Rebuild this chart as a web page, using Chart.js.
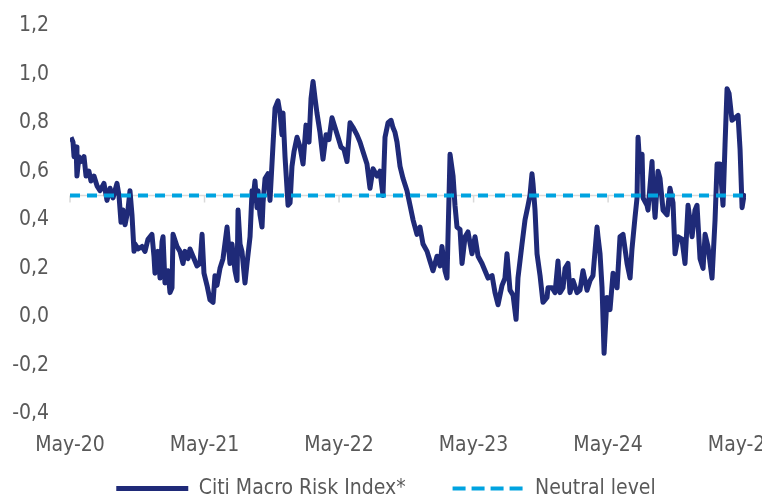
<!DOCTYPE html>
<html lang="en">
<head>
<meta charset="UTF-8">
<title>Citi Macro Risk Index</title>
<script src="https://cdn.jsdelivr.net/npm/chart.js"></script>
<style>
  html, body { margin: 0; padding: 0; background: #fff; overflow: hidden; }
  body { width: 762px; height: 497px; }
  #chart { display: block; }
</style>
</head>
<body>
<canvas id="chart" width="790" height="497"></canvas>
<script>
// months since May 2020
const months = [
  0.09, 0.27, 0.36, 0.54, 0.62, 0.80, 0.98, 1.25, 1.43, 1.69, 1.87, 2.14, 2.41, 2.68, 3.03, 3.30,
  3.57, 3.84, 4.01, 4.19, 4.37, 4.55, 4.73, 4.91, 5.17, 5.35, 5.53, 5.71, 5.80, 6.07, 6.42, 6.69,
  6.96, 7.31, 7.49, 7.58, 7.85, 8.03, 8.21, 8.30, 8.47, 8.74, 8.92, 9.10, 9.19, 9.55, 9.81, 10.08,
  10.26, 10.53, 10.70, 10.97, 11.33, 11.60, 11.78, 11.95, 12.22, 12.49, 12.76, 12.93, 13.11, 13.38,
  13.65, 14.01, 14.27, 14.45, 14.72, 14.90, 14.99, 15.17, 15.34, 15.61, 15.79, 16.06, 16.24, 16.32,
  16.50, 16.68, 16.77, 16.95, 17.13, 17.22, 17.40, 17.66, 17.84, 18.11, 18.29, 18.55, 18.73, 18.91,
  19.00, 19.18, 19.45, 19.63, 19.80, 19.98, 20.25, 20.52, 20.79, 21.05, 21.32, 21.50, 21.68, 21.86,
  22.03, 22.30, 22.57, 22.84, 23.10, 23.37, 23.64, 23.91, 24.17, 24.44, 24.71, 24.98, 25.25, 25.60,
  25.87, 26.14, 26.49, 26.76, 27.03, 27.39, 27.65, 27.92, 28.10, 28.37, 28.64, 28.81, 28.99, 29.17,
  29.44, 29.71, 30.06, 30.33, 30.60, 30.95, 31.22, 31.49, 31.85, 32.11, 32.38, 32.74, 33.01, 33.18,
  33.45, 33.63, 33.90, 34.17, 34.34, 34.52, 34.79, 34.97, 35.24, 35.50, 35.86, 36.13, 36.40, 36.75,
  37.02, 37.29, 37.65, 37.91, 38.18, 38.54, 38.80, 38.98, 39.25, 39.52, 39.79, 39.96, 40.32, 40.59,
  40.86, 41.03, 41.21, 41.30, 41.48, 41.66, 41.93, 42.19, 42.55, 42.64, 43.00, 43.27, 43.53, 43.71,
  43.98, 44.16, 44.42, 44.60, 44.87, 45.23, 45.49, 45.76, 46.12, 46.39, 46.65, 47.01, 47.10, 47.28,
  47.46, 47.64, 47.90, 48.17, 48.44, 48.80, 49.06, 49.33, 49.69, 49.96, 50.13, 50.40, 50.58, 50.67,
  50.85, 51.03, 51.12, 51.47, 51.56, 51.92, 52.01, 52.19, 52.45, 52.63, 52.90, 53.26, 53.52, 53.79,
  53.97, 54.24, 54.59, 54.86, 55.13, 55.49, 55.75, 55.93, 56.20, 56.47, 56.65, 56.91, 57.27, 57.54,
  57.72, 57.98, 58.25, 58.43, 58.61, 58.79, 59.05, 59.32, 59.59, 59.77, 59.95, 60.12, 60.21
];

const riskIndex = [
  0.74, 0.72, 0.66, 0.70, 0.58, 0.66, 0.64, 0.66, 0.58, 0.60, 0.56, 0.58, 0.54, 0.52, 0.55, 0.48,
  0.53, 0.49, 0.52, 0.55, 0.50, 0.39, 0.44, 0.38, 0.44, 0.52, 0.42, 0.27, 0.30, 0.28, 0.29, 0.27,
  0.32, 0.34, 0.25, 0.18, 0.27, 0.16, 0.31, 0.33, 0.14, 0.19, 0.10, 0.12, 0.34, 0.29, 0.27, 0.22,
  0.27, 0.24, 0.28, 0.25, 0.21, 0.22, 0.34, 0.18, 0.13, 0.07, 0.06, 0.17, 0.13, 0.20,
  0.24, 0.37, 0.22, 0.30, 0.19, 0.15, 0.44, 0.30, 0.27, 0.14, 0.22, 0.33, 0.52, 0.48,
  0.56, 0.45, 0.52, 0.42, 0.37, 0.47, 0.57, 0.59, 0.48, 0.71, 0.86, 0.89, 0.84, 0.75,
  0.84, 0.66, 0.46, 0.47, 0.62, 0.68, 0.74, 0.70, 0.63, 0.79, 0.72, 0.90, 0.97, 0.90,
  0.84, 0.76, 0.65, 0.75, 0.73, 0.82, 0.78, 0.74, 0.70, 0.69, 0.64, 0.80, 0.78, 0.75,
  0.72, 0.68, 0.63, 0.53, 0.61, 0.58, 0.60, 0.50, 0.74, 0.80, 0.81, 0.78, 0.76, 0.72,
  0.62, 0.57, 0.52, 0.46, 0.40, 0.34, 0.37, 0.30, 0.27, 0.23, 0.19, 0.25, 0.21, 0.29,
  0.19, 0.16, 0.67, 0.58, 0.46, 0.37, 0.36, 0.22, 0.33, 0.35, 0.26, 0.33, 0.25, 0.22,
  0.19, 0.16, 0.17, 0.10, 0.05, 0.13, 0.16, 0.26, 0.11, 0.09, -0.01, 0.16, 0.30, 0.40,
  0.46, 0.50, 0.59, 0.55, 0.44, 0.26, 0.17, 0.06, 0.08, 0.12, 0.12, 0.10, 0.23, 0.10,
  0.12, 0.20, 0.22, 0.10, 0.15, 0.10, 0.11, 0.19, 0.11, 0.15, 0.17, 0.37, 0.33, 0.26,
  0.12, -0.15, 0.08, 0.03, 0.18, 0.12, 0.33, 0.34, 0.22, 0.16, 0.28, 0.41, 0.49, 0.74,
  0.60, 0.67, 0.49, 0.46, 0.44, 0.64, 0.52, 0.41, 0.60, 0.57, 0.44, 0.42, 0.53, 0.47,
  0.26, 0.33, 0.32, 0.22, 0.46, 0.33, 0.44, 0.46, 0.24, 0.20, 0.34, 0.29, 0.16, 0.40,
  0.63, 0.63, 0.46, 0.71, 0.94, 0.92, 0.81, 0.82, 0.83, 0.69, 0.45, 0.50, 0.49
];

const neutralLevel = 0.5;
const tickMonths = [0, 12, 24, 36, 48, 60];
const tickLabels = ['May-20', 'May-21', 'May-22', 'May-23', 'May-24', 'May-25'];
const yTicks = [-0.4, -0.2, 0, 0.2, 0.4, 0.6, 0.8, 1.0, 1.2];

const navy = '#1f2a78';
const lightBlue = '#00a3e0';
const textGrey = '#595959';
const FONT = "'DejaVu Sans Condensed', 'Liberation Sans', sans-serif";

// grey axis line at the neutral level with small yearly ticks (drawn under the lines)
const neutralAxis = {
  id: 'neutralAxis',
  beforeDatasetsDraw(chart) {
    const { ctx, scales: { x, y } } = chart;
    const py = y.getPixelForValue(neutralLevel);
    ctx.save();
    ctx.strokeStyle = '#d9d9d9';
    ctx.lineWidth = 1.5;
    ctx.beginPath();
    ctx.moveTo(x.left, py);
    ctx.lineTo(x.right, py);
    tickMonths.forEach(m => {
      const px = x.getPixelForValue(m);
      ctx.moveTo(px, py);
      ctx.lineTo(px, py + 7);
    });
    ctx.stroke();
    ctx.restore();
  }
};

// legend padding is also the gap between items, so keep the box short
// and move it into place once the layout is done
const legendPlace = {
  id: 'legendPlace',
  beforeLayout(chart) {
    const lg = chart.legend;
    if (!lg || lg._fitPatched) return;
    const fit = lg.fit;
    lg.fit = function () {
      fit.call(this);
      this.height = 30;
    };
    lg._fitPatched = true;
  },
  afterLayout(chart) {
    const lg = chart.legend;
    if (!lg) return;
    lg.top = 431;
    lg.bottom = lg.top + 70;
    lg.left += 13;
    lg.right += 13;
  }
};

new Chart(document.getElementById('chart'), {
  type: 'line',
  data: {
    datasets: [
      {
        label: 'Citi Macro Risk Index*',
        data: months.map((m, i) => ({ x: m, y: riskIndex[i] })),
        borderColor: navy,
        backgroundColor: navy,
        borderWidth: 5,
        borderJoinStyle: 'round',
        pointRadius: 0,
        tension: 0,
        order: 2
      },
      {
        label: 'Neutral level',
        data: [{ x: 0, y: neutralLevel }, { x: 60.3, y: neutralLevel }],
        borderColor: lightBlue,
        backgroundColor: lightBlue,
        borderWidth: 4,
        borderDash: [10, 7],
        pointRadius: 0,
        order: 1
      }
    ]
  },
  options: {
    responsive: false,
    animation: false,
    layout: { padding: { top: 1, right: 44, left: 0, bottom: 0 } },
    plugins: {
      tooltip: { enabled: false },
      legend: {
        position: 'bottom',
        labels: {
          color: textGrey,
          font: { family: FONT, size: 21 },
          usePointStyle: true,
          pointStyle: 'line',
          pointStyleWidth: 72,
          boxHeight: 4,
          padding: 47,
          sort: (a, b) => a.datasetIndex - b.datasetIndex,
          generateLabels(chart) {
            const items = Chart.defaults.plugins.legend.labels.generateLabels(chart);
            items.forEach(it => {
              const ds = chart.data.datasets[it.datasetIndex];
              it.lineDash = ds.borderDash ? [13, 6] : [];
              it.lineWidth = ds.borderWidth;
              it.strokeStyle = ds.borderColor;
            });
            return items;
          }
        }
      }
    },
    scales: {
      x: {
        type: 'linear',
        min: 0,
        max: 60.3,
        grid: { display: false },
        border: { display: false },
        afterBuildTicks: s => { s.ticks = tickMonths.map(v => ({ value: v })); },
        afterFit: s => { s.height = 53; },
        ticks: {
          color: textGrey,
          font: { family: FONT, size: 21 },
          padding: 11,
          maxRotation: 0,
          autoSkip: false,
          callback: v => tickLabels[tickMonths.indexOf(v)]
        }
      },
      y: {
        min: -0.4,
        max: 1.2,
        grid: { display: false },
        border: { display: false },
        afterBuildTicks: s => { s.ticks = yTicks.map(v => ({ value: v })); },
        afterFit: s => { s.width = 70; },
        ticks: {
          color: textGrey,
          font: { family: FONT, size: 21 },
          padding: 13,
          callback: v => v.toFixed(1).replace('.', ',')
        }
      }
    }
  },
  plugins: [neutralAxis, legendPlace]
});
</script>
</body>
</html>
